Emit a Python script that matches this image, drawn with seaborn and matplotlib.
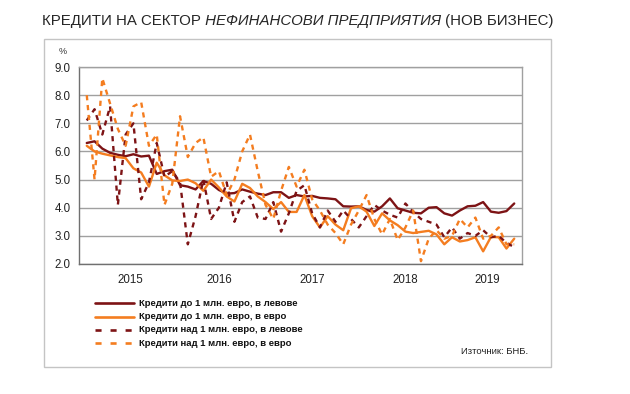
import numpy as np
import pandas as pd
import matplotlib
matplotlib.use('Agg')
import matplotlib.pyplot as plt
from matplotlib.lines import Line2D
from matplotlib.patches import Rectangle
import seaborn as sns

# ─────────────────────────────────────────────
# Данни (месечни, фев. 2015 – септ. 2019)
# ─────────────────────────────────────────────
months = np.arange(1, 57)

small_bgn = [6.30, 6.36, 6.10, 5.95, 5.88, 5.83, 5.90, 5.82, 5.85, 5.20, 5.30, 5.35,
             4.80, 4.75, 4.65, 4.95, 4.85, 4.63, 4.50, 4.52, 4.65, 4.57, 4.50, 4.45,
             4.55, 4.55, 4.35, 4.45, 4.40, 4.42, 4.35, 4.33, 4.30, 4.05, 4.04, 4.05,
             3.92, 3.86, 4.05, 4.33, 3.98, 3.90, 3.82, 3.80, 4.00, 4.02, 3.80, 3.72,
             3.90, 4.05, 4.07, 4.20, 3.86, 3.82, 3.88, 4.15]

small_eur = [6.20, 6.00, 5.92, 5.86, 5.80, 5.76, 5.40, 5.25, 4.75, 5.60, 5.15, 4.97,
             4.95, 5.00, 4.87, 4.60, 5.00, 4.72, 4.40, 4.22, 4.85, 4.70, 4.40, 4.20,
             3.95, 4.20, 3.85, 3.85, 4.45, 3.70, 3.30, 3.70, 3.40, 3.20, 3.98, 4.05,
             3.86, 3.35, 3.80, 3.55, 3.38, 3.15, 3.10, 3.14, 3.18, 3.05, 2.70, 2.95,
             2.80, 2.85, 2.95, 2.45, 2.96, 2.95, 2.55, 2.90]

large_bgn = [7.10, 7.50, 6.60, 7.60, 4.10, 6.60, 7.00, 4.30, 4.90, 6.30, 5.10, 5.30,
             4.90, 2.70, 3.70, 5.00, 3.60, 4.00, 4.90, 3.50, 4.20, 4.40, 3.65, 3.60,
             4.20, 3.15, 3.80, 4.60, 4.80, 3.80, 3.30, 3.90, 3.50, 3.90, 3.60, 3.30,
             3.70, 4.10, 3.90, 3.75, 3.65, 4.15, 3.85, 3.60, 3.50, 3.40, 2.95, 3.30,
             2.90, 3.10, 3.00, 3.20, 2.95, 3.00, 2.75, 2.60]

large_eur = [8.00, 5.00, 8.60, 7.70, 6.80, 6.20, 7.60, 7.75, 6.20, 6.60, 4.10, 4.85,
             7.25, 5.80, 6.30, 6.50, 5.10, 5.30, 4.45, 5.00, 6.00, 6.60, 5.30, 4.10,
             3.60, 4.60, 5.45, 4.75, 5.35, 4.30, 3.90, 3.40, 3.10, 2.70, 3.40, 3.90,
             4.45, 3.60, 3.05, 3.60, 2.85, 3.30, 3.90, 2.10, 2.90, 3.20, 2.90, 3.00,
             3.60, 3.30, 3.65, 2.90, 3.00, 3.30, 2.70, 2.70]

series_names = ['Кредити до 1 млн. евро, в левове',
                'Кредити до 1 млн. евро, в евро',
                'Кредити над 1 млн. евро, в левове',
                'Кредити над 1 млн. евро, в евро']

years = ['2015', '2016', '2017', '2018', '2019']
year_centers = [6.6, 18, 30, 42, 52.5]

DARK = '#7d1315'
ORANGE = '#f47d20'
palette = dict(zip(series_names, [DARK, ORANGE, DARK, ORANGE]))
dashes = dict(zip(series_names, ['', '', (2.2, 2.0), (2.2, 2.0)]))

df = pd.concat([
    pd.DataFrame({'month': months, 'value': vals, 'series': name})
    for name, vals in zip(series_names, [small_bgn, small_eur, large_bgn, large_eur])
])

# ─────────────────────────────────────────────
# Графика
# ─────────────────────────────────────────────
sns.set_theme(style='white')
plt.rcParams['font.family'] = ['Liberation Sans', 'DejaVu Sans']

fig = plt.figure(figsize=(6.3, 3.94), dpi=100)
ax = fig.add_axes([79 / 630, 1 - 264 / 394, (522 - 79) / 630, (264 - 67) / 394])

sns.lineplot(data=df, x='month', y='value', hue='series', style='series',
             palette=palette, dashes=dashes, linewidth=1.7,
             legend=False, ax=ax, zorder=3)

ax.set_xlim(0, 57)
ax.set_ylim(2, 9)
ax.set_yticks(np.arange(2, 10))
ax.set_yticklabels([f'{v:.1f}' for v in np.arange(2, 10)], fontsize=8.3, color='#222222')
ax.yaxis.grid(True, color='#a0a0a0', linewidth=1.0)
ax.tick_params(axis='y', length=0, pad=6)

ax.set_xticks([0, 12, 24, 36, 48])
ax.set_xticklabels([])
ax.set_xticks(np.arange(0, 58), minor=True)
ax.tick_params(axis='x', which='major', direction='inout', length=6, width=0.8, color='#606060')
ax.tick_params(axis='x', which='minor', direction='out', length=2.5, width=0.7, color='#606060')
for yr, xc in zip(years, year_centers):
    ax.text(xc, -0.079, yr, transform=ax.get_xaxis_transform(),
            ha='center', va='center', fontsize=8.3, color='#222222')

ax.set_xlabel('')
ax.set_ylabel('')
for side in ['left', 'bottom']:
    ax.spines[side].set_color('#707070')
    ax.spines[side].set_linewidth(1.0)
for side in ['right', 'top']:
    ax.spines[side].set_color('#a0a0a0')
    ax.spines[side].set_linewidth(1.0)

fig.text(63 / 630, 1 - 52 / 394, '%', fontsize=6.5, ha='center', va='center', color='#333333')

# заглавие (средната част в курсив)
t1 = fig.text(42 / 630, 1 - 28 / 394, 'КРЕДИТИ НА СЕКТОР', fontsize=10.8, va='bottom')
t2 = plt.annotate(' НЕФИНАНСОВИ ПРЕДПРИЯТИЯ', xy=(1, 0), xycoords=t1,
                  fontsize=10.8, style='italic', va='bottom', ha='left')
t3 = plt.annotate(' (НОВ БИЗНЕС)', xy=(1, 0), xycoords=t2,
                  fontsize=10.8, va='bottom', ha='left')

# рамка около графиката
fig.patches.append(Rectangle((44 / 630, 1 - 367 / 394), (551 - 44) / 630, (367 - 39) / 394,
                             transform=fig.transFigure, fill=False,
                             edgecolor='#c4c4c4', linewidth=1.0))

# легенда
leg_styles = [(DARK, '-'), (ORANGE, '-'), (DARK, (0, (2.3, 3.4))), (ORANGE, (0, (2.3, 3.4)))]
for k, (name, (col, ls)) in enumerate(zip(series_names, leg_styles)):
    y = 1 - (303.3 + 13.33 * k) / 394
    fig.add_artist(Line2D([95 / 630, 134 / 630], [y, y], transform=fig.transFigure,
                          color=col, linestyle=ls, linewidth=1.9))
    fig.text(139 / 630, y, name, fontsize=6.8, fontweight='bold', va='center', color='#111111')

fig.text(528 / 630, 1 - 352 / 394, 'Източник: БНБ.', fontsize=6.8, ha='right', va='center',
         color='#222222')

plt.savefig('out.png', dpi=100)
